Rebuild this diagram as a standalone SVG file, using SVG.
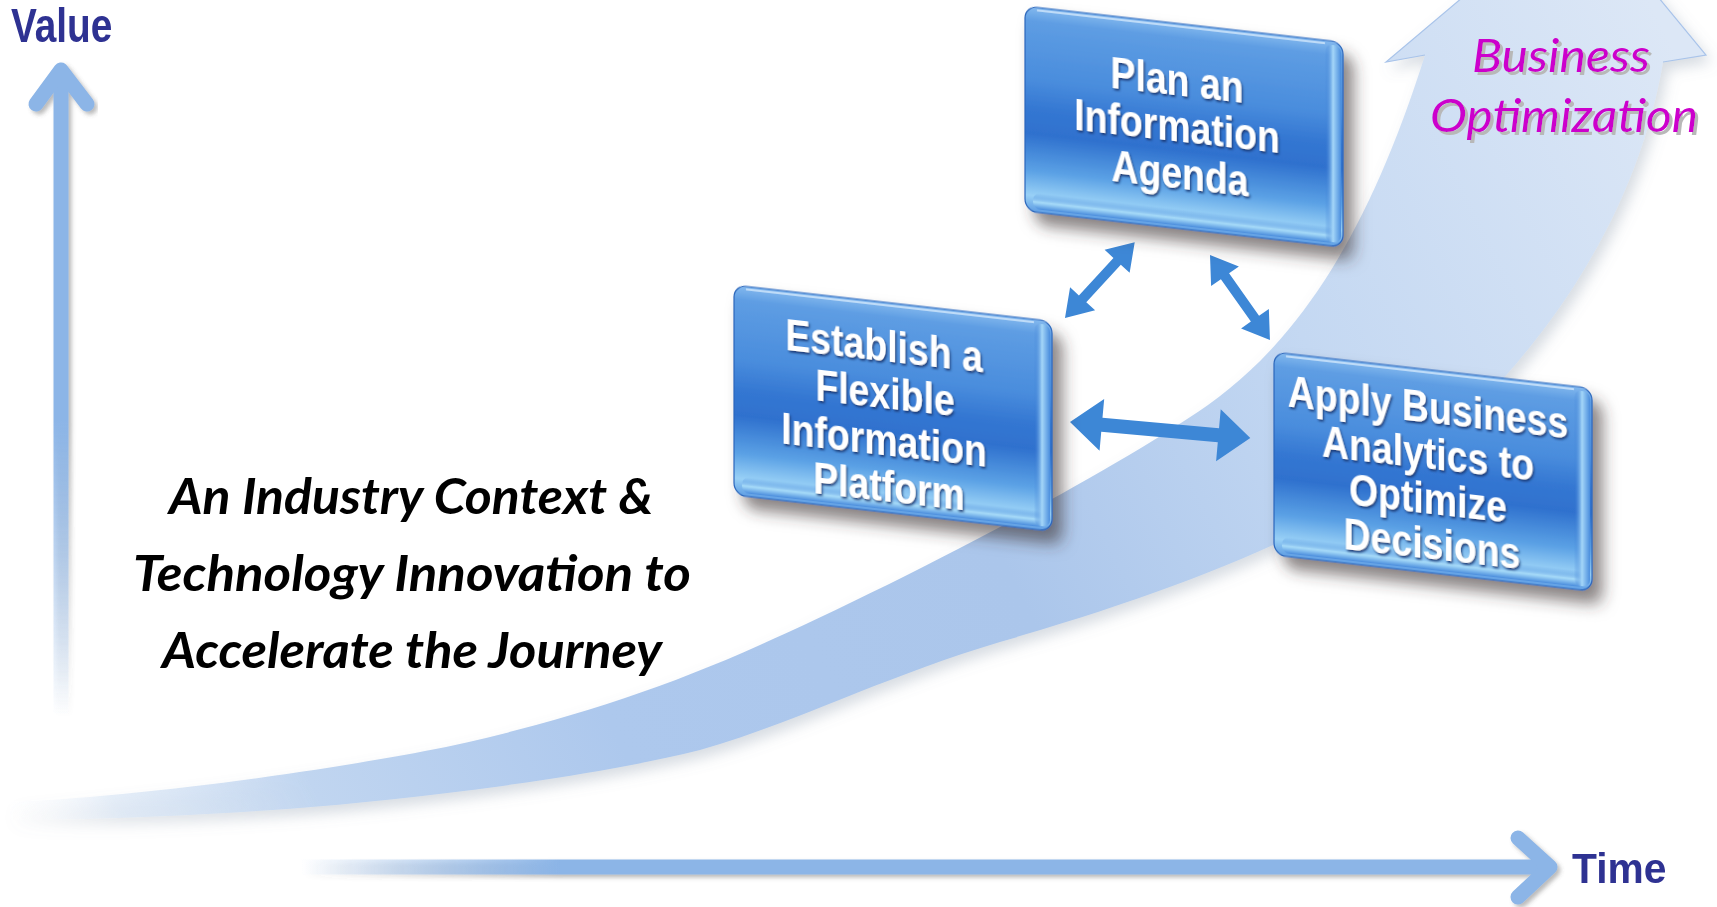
<svg xmlns="http://www.w3.org/2000/svg" width="1717" height="907" viewBox="0 0 1717 907">
<defs>
<style>
.boxtxt{font-family:"Liberation Sans",Arial,sans-serif;font-weight:bold;font-size:44px;fill:#ffffff;text-anchor:middle;filter:url(#txtsh)}
.axis{font-family:"Liberation Sans",Arial,sans-serif;font-weight:bold;font-size:40px;fill:#2e3192}
.main{font-family:Lato,"Open Sans",sans-serif;font-weight:bold;font-style:italic;font-size:49px;fill:#000000;text-anchor:middle}
.opt{font-family:Lato,"Open Sans",sans-serif;font-style:italic;font-size:46px;fill:#cc00cc;filter:url(#optsh)}
.conn{fill:#3d87d6}
.body{fill:url(#boxg);stroke:#2b66bb;stroke-width:1.2}
.bevR{fill:url(#bevR)}
.bevB{fill:url(#bevB)}
.hl{fill:none;stroke:#cfe6fb;stroke-width:2;opacity:.8}
</style>
<linearGradient id="boxg" x1="0" y1="0" x2="0" y2="1">
<stop offset="0" stop-color="#84b9ee"/>
<stop offset="0.07" stop-color="#5e9de3"/>
<stop offset="0.35" stop-color="#4a8ddd"/>
<stop offset="0.5" stop-color="#3477d2"/>
<stop offset="0.62" stop-color="#2f71ce"/>
<stop offset="0.8" stop-color="#5ba1e5"/>
<stop offset="0.92" stop-color="#98d0f6"/>
<stop offset="1" stop-color="#5e9de3"/>
</linearGradient>
<linearGradient id="bevR" x1="0" y1="0" x2="1" y2="0">
<stop offset="0" stop-color="#3274d0" stop-opacity="0"/>
<stop offset="0.5" stop-color="#a4d6f8"/>
<stop offset="1" stop-color="#4a8ddd"/>
</linearGradient>
<linearGradient id="bevB" x1="0" y1="0" x2="0" y2="1">
<stop offset="0" stop-color="#3a7ed6" stop-opacity="0"/>
<stop offset="0.55" stop-color="#a8dcf9"/>
<stop offset="1" stop-color="#4a8ddd"/>
</linearGradient>
<linearGradient id="vax" gradientUnits="userSpaceOnUse" x1="0" y1="420" x2="0" y2="715">
<stop offset="0" stop-color="#8cb5e7"/>
<stop offset="1" stop-color="#8cb5e7" stop-opacity="0"/>
</linearGradient>
<linearGradient id="hax" gradientUnits="userSpaceOnUse" x1="300" y1="0" x2="560" y2="0">
<stop offset="0" stop-color="#8cb5e7" stop-opacity="0"/>
<stop offset="1" stop-color="#8cb5e7"/>
</linearGradient>
<linearGradient id="bandg" gradientUnits="userSpaceOnUse" x1="0" y1="820" x2="1650" y2="0">
<stop offset="0" stop-color="#ffffff" stop-opacity="0"/>
<stop offset="0.06" stop-color="#dbe7f6" stop-opacity="0.7"/>
<stop offset="0.16" stop-color="#c0d5f0"/>
<stop offset="0.32" stop-color="#adc8ed"/>
<stop offset="0.55" stop-color="#abc6eb"/>
<stop offset="0.75" stop-color="#c4d8f2"/>
<stop offset="1" stop-color="#dce7f6"/>
</linearGradient>
<filter id="boxsh" x="-20%" y="-20%" width="150%" height="150%">
<feGaussianBlur in="SourceAlpha" stdDeviation="8"/>
<feOffset dx="10" dy="12" result="b"/>
<feFlood flood-color="#3a3030" flood-opacity="0.6"/>
<feComposite in2="b" operator="in"/>
<feMerge><feMergeNode/><feMergeNode in="SourceGraphic"/></feMerge>
</filter>
<filter id="txtsh" x="-10%" y="-30%" width="120%" height="160%">
<feDropShadow dx="1.5" dy="2" stdDeviation="1" flood-color="#16366e" flood-opacity="0.9"/>
</filter>
<filter id="optsh" x="-10%" y="-20%" width="120%" height="150%">
<feDropShadow dx="3" dy="3" stdDeviation="0.6" flood-color="#b8b8b8" flood-opacity="1"/>
</filter>
<filter id="axsh" x="-20%" y="-20%" width="140%" height="140%">
<feDropShadow dx="3" dy="3" stdDeviation="2" flood-color="#555555" flood-opacity="0.4"/>
</filter>
<filter id="bandsh" x="-10%" y="-20%" width="120%" height="140%">
<feDropShadow dx="5" dy="7" stdDeviation="7" flood-color="#7a8aa0" flood-opacity="0.3"/>
</filter>
<filter id="soft"><feGaussianBlur stdDeviation="0.6"/></filter>
</defs>
<rect width="1717" height="907" fill="#ffffff"/>

<g id="curve-arrow" filter="url(#bandsh)">
<path fill="url(#bandg)" d="M 10,802 C 150,796 330,770 446,747 C 560,722 660,690 760,645 C 880,592 1100,480 1208,405 C 1300,340 1370,230 1425,55 L 1386,62 L 1578,-100 L 1706,55 L 1663,62 C 1640,200 1560,340 1420,460 C 1320,535 1180,590 1000,642 C 880,678 790,725 700,750 C 600,775 450,795 312,807 C 200,816 80,820 10,820 Z"/>
<path fill="none" stroke="#a9c4ea" stroke-width="1.2" d="M 1425,55 L 1386,62 L 1578,-100 L 1706,55 L 1663,62"/>
</g>

<g id="value-axis" filter="url(#axsh)">
<line x1="61" y1="72" x2="61" y2="715" stroke="url(#vax)" stroke-width="15"/>
<polyline points="36,104 61,70 87,104" fill="none" stroke="#8cb5e7" stroke-width="15" stroke-linecap="round" stroke-linejoin="round"/>
</g>
<g id="time-axis" filter="url(#axsh)">
<line x1="300" y1="867" x2="1548" y2="867" stroke="url(#hax)" stroke-width="15"/>
<polyline points="1518,838 1550,867 1518,897" fill="none" stroke="#8cb5e7" stroke-width="15" stroke-linecap="round" stroke-linejoin="round"/>
</g>
<text id="label-value" class="axis" filter="url(#soft)" transform="translate(11,42) scale(0.97,1.2)">Value</text>
<text id="label-time" class="axis" filter="url(#soft)" transform="translate(1572,883) scale(1.02,1.08)">Time</text>

<g id="connectors">
<polygon class="conn" transform="translate(1065,318) rotate(-47.4)" points="0,0 26,-17 26,-5 77,-5 77,-17 103,0 77,17 77,5 26,5 26,17"/>
<polygon class="conn" transform="translate(1210,255) rotate(54.8)" points="0,0 26,-17 26,-5 78,-5 78,-17 104,0 78,17 78,5 26,5 26,17"/>
<polygon class="conn" transform="translate(1070,422) rotate(5.1)" points="0,0 32,-26 32,-7 149,-7 149,-26 181,0 149,26 149,7 32,7 32,26"/>
</g>

<g id="node-plan" transform="translate(1025,6) skewY(6.5)">
<g filter="url(#boxsh)">
<rect class="body" x="0" y="0" width="318" height="205" rx="12"/>
<rect class="bevB" x="8" y="186" width="302" height="16" rx="7"/>
<rect class="bevR" x="300" y="4" width="16" height="197" rx="7"/>
<path class="hl" d="M 12,3 H 300"/>
</g>
<text class="boxtxt" transform="translate(152,72) scale(0.85,1)">Plan an</text>
<text class="boxtxt" transform="translate(152,118) scale(0.85,1)">Information</text>
<text class="boxtxt" transform="translate(155,165) scale(0.85,1)">Agenda</text>
</g>

<g id="node-establish" transform="translate(734,285) skewY(6.5)">
<g filter="url(#boxsh)">
<rect class="body" x="0" y="0" width="318" height="210" rx="12"/>
<rect class="bevB" x="8" y="191" width="302" height="16" rx="7"/>
<rect class="bevR" x="300" y="4" width="16" height="202" rx="7"/>
<path class="hl" d="M 12,3 H 300"/>
</g>
<text class="boxtxt" transform="translate(150,59) scale(0.85,1)">Establish a</text>
<text class="boxtxt" transform="translate(151,106) scale(0.85,1)">Flexible</text>
<text class="boxtxt" transform="translate(150,153) scale(0.85,1)">Information</text>
<text class="boxtxt" transform="translate(155,199) scale(0.85,1)">Platform</text>
</g>

<g id="node-apply" transform="translate(1274,352) skewY(6.5)">
<g filter="url(#boxsh)">
<rect class="body" x="0" y="0" width="318" height="203" rx="12"/>
<rect class="bevB" x="8" y="184" width="302" height="16" rx="7"/>
<rect class="bevR" x="300" y="4" width="16" height="195" rx="7"/>
<path class="hl" d="M 12,3 H 300"/>
</g>
<text class="boxtxt" transform="translate(154,53) scale(0.85,1)">Apply Business</text>
<text class="boxtxt" transform="translate(154,99) scale(0.85,1)">Analytics to</text>
<text class="boxtxt" transform="translate(154,144) scale(0.85,1)">Optimize</text>
<text class="boxtxt" transform="translate(158,189) scale(0.85,1)">Decisions</text>
</g>

<g id="label-business-optimization">
<text class="opt" x="1472" y="72" textLength="178" lengthAdjust="spacingAndGlyphs">Business</text>
<text class="opt" x="1430" y="132" textLength="268" lengthAdjust="spacingAndGlyphs">Optimization</text>
</g>

<g id="caption">
<text class="main" x="411" y="514" textLength="484" lengthAdjust="spacingAndGlyphs">An Industry Context &amp;</text>
<text class="main" x="412" y="591" textLength="558" lengthAdjust="spacingAndGlyphs">Technology Innovation to</text>
<text class="main" x="412" y="668" textLength="500" lengthAdjust="spacingAndGlyphs">Accelerate the Journey</text>
</g>
</svg>
